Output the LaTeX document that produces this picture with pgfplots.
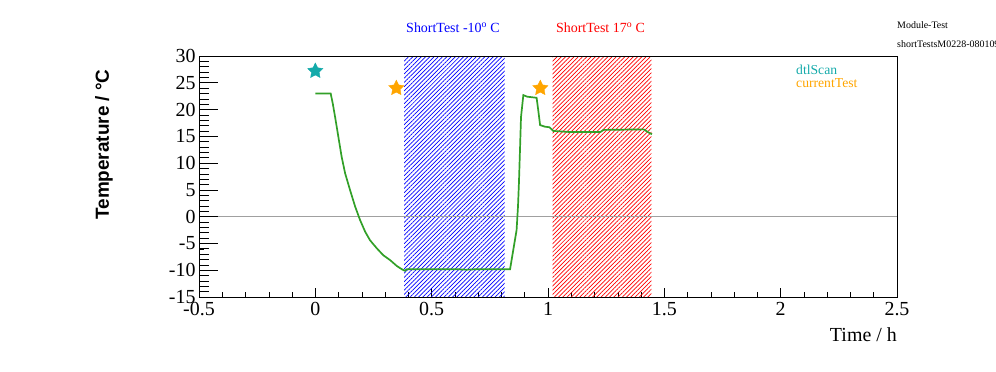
\documentclass[border=0pt]{standalone}
\usepackage{fontspec}
\setmainfont{Liberation Serif}
\newfontfamily\arialf{Liberation Sans}
\usepackage{pgfplots}
\pgfplotsset{compat=1.18}
\usetikzlibrary{patterns.meta}
\definecolor{rgreen}{RGB}{50,160,40}
\definecolor{starcyan}{RGB}{20,170,170}
\definecolor{starorange}{RGB}{255,165,0}
\definecolor{zerogray}{RGB}{160,160,160}
\pgfdeclareplotmark{fstar}{%
  \pgfpathmoveto{\pgfpointpolar{90}{\pgfplotmarksize}}%
  \pgfpathlineto{\pgfpointpolar{126}{0.5\pgfplotmarksize}}%
  \pgfpathlineto{\pgfpointpolar{162}{\pgfplotmarksize}}%
  \pgfpathlineto{\pgfpointpolar{198}{0.5\pgfplotmarksize}}%
  \pgfpathlineto{\pgfpointpolar{234}{\pgfplotmarksize}}%
  \pgfpathlineto{\pgfpointpolar{270}{0.5\pgfplotmarksize}}%
  \pgfpathlineto{\pgfpointpolar{306}{\pgfplotmarksize}}%
  \pgfpathlineto{\pgfpointpolar{342}{0.5\pgfplotmarksize}}%
  \pgfpathlineto{\pgfpointpolar{18}{\pgfplotmarksize}}%
  \pgfpathlineto{\pgfpointpolar{54}{0.5\pgfplotmarksize}}%
  \pgfpathclose
  \pgfusepathqfillstroke
}
\pgfplotstableread{
x y
0.000 23.0
0.066 23.0
0.075 21.1
0.085 18.6
0.099 14.9
0.113 11.2
0.128 8.1
0.149 5.0
0.171 1.9
0.192 -0.6
0.214 -2.8
0.235 -4.4
0.264 -5.9
0.292 -7.2
0.321 -8.1
0.350 -9.2
0.371 -9.8
0.385 -10.1
0.394 -9.8
0.600 -9.8
0.650 -9.9
0.700 -9.8
0.837 -9.8
0.865 -2.5
0.871 1.9
0.875 6.2
0.880 13.0
0.884 18.6
0.894 22.7
0.911 22.4
0.951 22.2
0.958 19.9
0.966 17.1
0.987 16.8
1.006 16.7
1.023 16.0
1.096 15.8
1.225 15.8
1.239 16.2
1.411 16.3
1.433 15.7
1.447 15.4
}\temptable
\begin{document}
\begin{tikzpicture}
\useasboundingbox (0,0) rectangle (996bp,372bp);
\begin{axis}[
  at={(199bp,75bp)}, anchor=south west,
  scale only axis, width=698bp, height=241bp,
  xmin=-0.5, xmax=2.5, ymin=-15, ymax=30,
  xtick={-0.5,0,0.5,1,1.5,2,2.5},
  ytick={-15,-10,-5,0,5,10,15,20,25,30},
  minor x tick num=4, minor y tick num=4,
  tick align=inside, tick pos=left,
  major tick length=9bp, minor tick length=4.5bp,
  tick style={black, line width=0.6bp},
  axis line style={line width=0.8bp},
  /pgf/number format/assume math mode=true,
  ticklabel style={font=\fontsize{20}{20}\selectfont},
  xticklabel style={yshift=-2bp},
  xlabel={Time / h},
  ylabel={Temperature / °C},
  every axis x label/.style={at={(axis description cs:1,-0.127)}, anchor=north east, inner sep=0pt, font=\fontsize{20}{20}\selectfont},
  every axis y label/.style={at={(axis description cs:-0.1361,0.6328)}, anchor=center, rotate=90, inner sep=0pt, font=\arialf\bfseries\fontsize{19}{19}\selectfont},
]
\addplot[draw=none, pattern={Lines[angle=45,distance=3bp,line width=0.7bp]}, pattern color=blue] coordinates {(0.382,-15) (0.382,30) (0.814,30) (0.814,-15) (0.382,-15)};
\addplot[draw=none, pattern={Lines[angle=45,distance=3bp,line width=0.7bp]}, pattern color=red] coordinates {(1.020,-15) (1.020,30) (1.444,30) (1.444,-15) (1.020,-15)};
\addplot[zerogray, line width=0.6bp] coordinates {(-0.5,0) (2.5,0)};
\addplot[rgreen, line width=1.7bp] table[x=x,y=y] {\temptable};
\addplot[only marks, mark=fstar, mark size=8bp, color=starcyan] coordinates {(0,27.2)};
\addplot[only marks, mark=fstar, mark size=8bp, color=starorange] coordinates {(0.348,24.0) (0.967,24.0)};
\end{axis}
\begin{axis}[
  at={(199bp,75bp)}, anchor=south west,
  scale only axis, width=698bp, height=241bp,
  xmin=-0.5, xmax=2.5, ymin=-15, ymax=30,
  xtick=\empty,
  ytick={-15,-10,-5,0,5,10,15,20,25,30},
  yticklabels={},
  minor y tick num=4,
  tick align=inside, tick pos=left,
  major tick length=19bp, minor tick length=9.5bp,
  tick style={black, line width=0.6bp},
  axis line style={line width=0.8bp},
]
\end{axis}
\node[anchor=base, text=blue, font=\fontsize{14}{14}\selectfont] at (453bp,339.3bp) {ShortTest -10\textsuperscript{o} C};
\node[anchor=base, text=red, font=\fontsize{14}{14}\selectfont] at (600.5bp,339.3bp) {ShortTest 17\textsuperscript{o} C};
\node[anchor=base west, inner sep=0pt, font=\fontsize{10}{10}\selectfont] at (897bp,343bp) {Module-Test};
\node[anchor=base west, inner sep=0pt, font=\fontsize{10}{10}\selectfont] at (897bp,324bp) {shortTestsM0228-080109};
\node[anchor=base west, inner sep=0pt, text=starcyan, font=\fontsize{13.7}{13.7}\selectfont] at (796bp,297bp) {dtlScan};
\node[anchor=base west, inner sep=0pt, text=starorange, font=\fontsize{13.7}{13.7}\selectfont] at (796bp,284bp) {currentTest};
\end{tikzpicture}
\end{document}
